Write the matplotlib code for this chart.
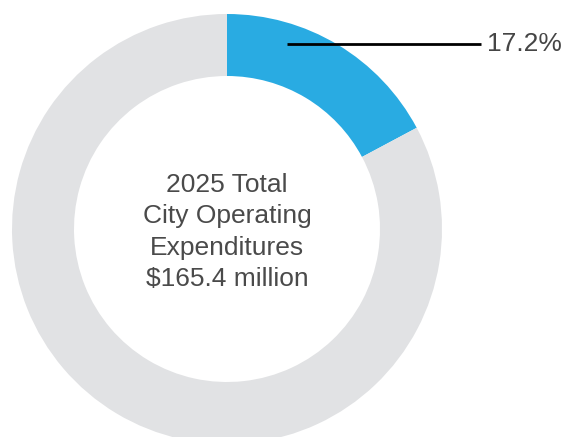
import numpy as np
import matplotlib.pyplot as plt

# data
shares = [17.2, 82.8]
colors = ['#29ABE2', '#E1E2E4']
center_text = "2025 Total\nCity Operating\nExpenditures\n$165.4 million"
label_text = "17.2%"

W, H = 564, 437
fig = plt.figure(figsize=(W / 100, H / 100), dpi=100)
ax = fig.add_axes([0, 0, 1, 1])

cx, cy = 227, H - 229   # ring centre in pixel coords (y up)
R = 215
ring = 62

ax.pie(shares, colors=colors, radius=R, center=(cx, cy), startangle=90,
       counterclock=False, wedgeprops=dict(width=ring, linewidth=0))

ax.set_xlim(0, W)
ax.set_ylim(0, H)
ax.set_aspect('equal')
ax.axis('off')

# leader line from inside the blue wedge to the label
ang = np.deg2rad(90 - 18)
r0 = R - 20
x0, y0 = cx + r0 * np.cos(ang), cy + r0 * np.sin(ang)
ax.plot([x0, 481], [y0, y0], color='black', lw=2, solid_capstyle='butt')
ax.text(487, y0, label_text, fontsize=19, color='#454545', va='center',
        ha='left', family='Liberation Sans')

ax.text(cx, cy - 3, center_text, fontsize=19, color='#4A4A4A', ha='center',
        va='center', linespacing=1.38, family='Liberation Sans')

fig.savefig('out.png', dpi=100)
